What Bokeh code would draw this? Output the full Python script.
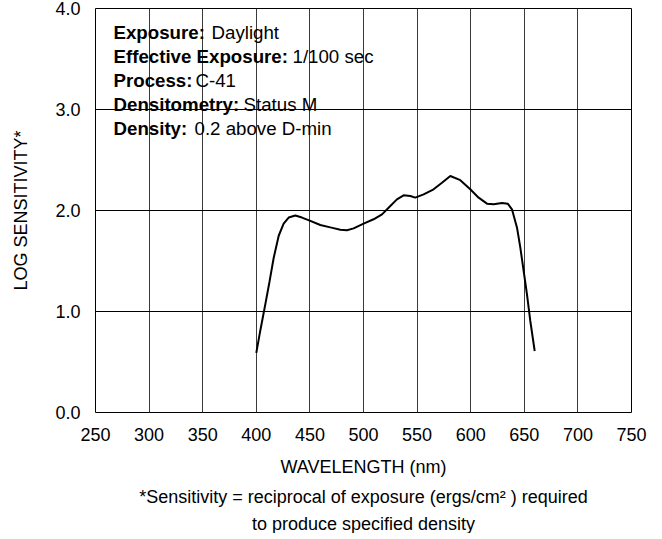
from bokeh.plotting import figure
from bokeh.models import Label, Title, FixedTicker, PrintfTickFormatter, Range1d
from bokeh.embed import file_html
from bokeh.resources import INLINE

# ---------------- data ----------------
wavelength = [400, 403.7, 408.4, 412.4, 416.2, 420.9, 425.5, 430.2, 436.4, 442.6,
              449.8, 459.7, 469, 478.4, 484.6, 490.8, 500.1, 509.4, 517.3, 525,
              531.2, 537.4, 543.7, 548.3, 556.1, 565.4, 573.2, 581, 590.3, 599.6,
              607.4, 615.2, 621.4, 629.2, 634.5, 638.5, 643.2, 646.3, 649.4, 652.5,
              655.6, 659.7]
log_sensitivity = [0.59, 0.81, 1.07, 1.30, 1.53, 1.75, 1.87, 1.93, 1.95, 1.93,
                   1.90, 1.856, 1.833, 1.81, 1.804, 1.823, 1.87, 1.913, 1.962, 2.045,
                   2.11, 2.15, 2.144, 2.127, 2.16, 2.21, 2.275, 2.342, 2.30, 2.21,
                   2.127, 2.068, 2.061, 2.074, 2.068, 2.012, 1.83, 1.632, 1.401, 1.17,
                   0.906, 0.609]

x_ticks = [250, 300, 350, 400, 450, 500, 550, 600, 650, 700, 750]
y_ticks = [0, 1, 2, 3, 4]

info_keys = ["Exposure:", "Effective Exposure:", "Process:", "Densitometry:", "Density:"]
info_values = ["Daylight", "1/100 sec", "C-41", "Status M", "0.2 above D-min"]

x_title = "WAVELENGTH (nm)"
y_title = "LOG SENSITIVITY*"
footnote_lines = ["*Sensitivity = reciprocal of exposure (ergs/cm\u00b2 ) required",
                  "to produce specified density"]

# ---------------- layout / style ----------------
FONT = "Liberation Sans"
FL, FT, FW, FH = 95, 8, 536, 404   # frame left, top, width, height (page px)

p = figure(frame_width=FW, frame_height=FH,
           x_range=Range1d(250, 750), y_range=Range1d(0, 4),
           output_backend="svg", toolbar_location=None,
           min_border_left=FL, min_border_top=FT, min_border_right=23,
           min_border_bottom=5)

p.background_fill_color = "white"
p.border_fill_color = "white"
p.outline_line_color = "black"
p.outline_line_width = 1

for ax in (p.xaxis[0], p.yaxis[0]):
    ax.axis_line_color = None
    ax.major_tick_line_color = None
    ax.minor_tick_line_color = None
    ax.major_tick_out = 0
    ax.major_tick_in = 0
    ax.minor_tick_out = 0
    ax.minor_tick_in = 0
    ax.major_label_text_font = FONT
    ax.major_label_text_font_size = "18px"
    ax.major_label_text_color = "black"
    ax.axis_label_text_font = FONT
    ax.axis_label_text_font_size = "18px"
    ax.axis_label_text_font_style = "normal"
    ax.axis_label_text_color = "black"

p.xaxis.ticker = FixedTicker(ticks=x_ticks)
p.yaxis.ticker = FixedTicker(ticks=y_ticks)
p.yaxis.formatter = PrintfTickFormatter(format="%.1f")
p.xaxis.axis_label = x_title
p.yaxis.axis_label = y_title
p.xaxis.major_label_standoff = 15
p.xaxis.axis_label_standoff = 13
p.yaxis.major_label_standoff = 15
p.yaxis.axis_label_standoff = 21

p.xgrid.grid_line_color = "#3a3a3a"
p.ygrid.grid_line_color = "black"
p.xgrid.grid_line_width = 1
p.ygrid.grid_line_width = 1

p.line(wavelength, log_sensitivity, line_color="black", line_width=2)

for t, so in zip(footnote_lines, (10, 0)):
    p.add_layout(Title(text=t, align="center", text_font=FONT,
                       text_font_size="18px", text_font_style="normal",
                       text_color="black", standoff=so), "below")

# info block (page-pixel placement converted to data units)
def px_x(px):
    return 250 + (px - FL) * 500 / FW

def px_y(py):
    return (FT + FH - py) * 4 / FH

key_x = 113
val_x = [211, 292, 195, 243, 194]
line_y = [32, 56, 80, 104, 128]

labels_bg = []
labels_fg = []
for k, v, vx, ly in zip(info_keys, info_values, val_x, line_y):
    for txt, xx, style in ((k, key_x, "bold"), (v, vx, "normal")):
        common = dict(x=px_x(xx), y=px_y(ly), text=txt, text_font=FONT,
                      text_font_size="18.7px", text_font_style=style,
                      text_align="left", text_baseline="middle")
        labels_bg.append(Label(**common, text_alpha=0,
                               background_fill_color="white",
                               background_fill_alpha=1,
                               padding=(3, 6, 3, 6)))
        labels_fg.append(Label(**common, text_color="black"))
for lab in labels_bg + labels_fg:
    p.add_layout(lab)

open("out.html", "w").write(file_html(p, INLINE))
